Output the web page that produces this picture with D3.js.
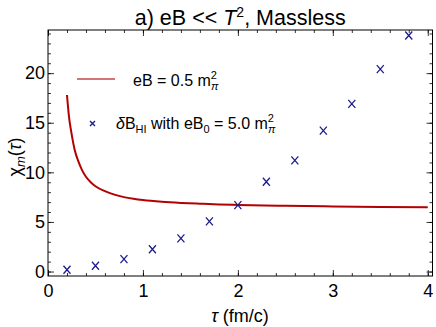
<!DOCTYPE html>
<html>
<head>
<meta charset="utf-8">
<script src="https://cdn.jsdelivr.net/npm/d3@7"></script>
<style>
  body { margin: 0; background: #fff; }
  svg { font-family: "Liberation Sans", Arial, sans-serif; }
</style>
</head>
<body>
<svg class="chart"></svg>
<script>
// crosses: delta B_HI with eB0 = 5.0 m_pi^2
const tauMarks = [0.2, 0.5, 0.8, 1.1, 1.4, 1.7, 2.0, 2.3, 2.6, 2.9, 3.2, 3.5, 3.8]
const chiMarks = [0.18, 0.58, 1.25, 2.25, 3.35, 5.05, 6.7, 9.05, 11.2, 14.2, 16.9, 20.4, 23.8]

// red curve: eB = 0.5 m_pi^2
const tauCurve = [0.2, 0.22, 0.25, 0.28, 0.32, 0.36, 0.4, 0.45, 0.5, 0.6, 0.7, 0.8, 0.9, 1.0, 1.2, 1.4, 1.6, 1.8, 2.0, 2.5, 3.0, 3.5, 4.0]
const chiCurve = [17.8, 15.7, 13.8, 12.3, 11.1, 10.2, 9.55, 9.0, 8.6, 8.1, 7.75, 7.5, 7.33, 7.2, 7.03, 6.92, 6.84, 6.77, 6.71, 6.62, 6.56, 6.51, 6.47]

const xTicks = [0, 1, 2, 3, 4]
const yTicks = [0, 5, 10, 15, 20]

const width = 436, height = 327
const padL = 48, padR = 432.5, padT = 30, padB = 276

const svg = d3.select('svg.chart')
    .attr('width', width)
    .attr('height', height)

const xScale = d3.scaleLinear().domain([0, 4.05]).range([padL, padR])
const yScale = d3.scaleLinear().domain([-0.45, 24.35]).range([padB, padT])

const curve = tauCurve.map((t, i) => ({ t: t, v: chiCurve[i] }))
const marks = tauMarks.map((t, i) => ({ t: t, v: chiMarks[i] }))

// ticks on all four sides, pointing inward
function tickAxis(axis, scale, values, size, labels) {
    return axis(scale).tickValues(values).tickSizeInner(size).tickSizeOuter(0)
        .tickFormat(labels ? d3.format('d') : '')
}

const minorX = d3.range(0, 4.01, 0.2)
const minorY = d3.range(0, 24.5, 1)

const axes = [
    ['translate(0,' + padB + ')', d3.axisBottom, xScale, 1],
    ['translate(0,' + padT + ')', d3.axisTop, xScale, 0],
    ['translate(' + padL + ',0)', d3.axisLeft, yScale, 1],
    ['translate(' + padR + ',0)', d3.axisRight, yScale, 0]
]
axes.forEach(([tr, ax, sc, lab]) => {
    const isX = sc === xScale
    svg.append('g').attr('transform', tr)
        .call(tickAxis(ax, sc, isX ? minorX : minorY, -3, false))
        .call(g => g.select('.domain').remove())
    const g = svg.append('g').attr('transform', tr)
        .call(tickAxis(ax, sc, isX ? xTicks : yTicks, -6, lab).tickPadding(isX ? 8 : 3))
        .call(g => g.select('.domain').remove())
    g.selectAll('text').style('font-size', '18px').attr('fill', '#000')
})
svg.selectAll('.tick line').attr('stroke', '#000').attr('stroke-width', 0.8)

svg.append('rect')
    .attr('x', padL).attr('y', padT)
    .attr('width', padR - padL).attr('height', padB - padT)
    .attr('fill', 'none').attr('stroke', '#000').attr('stroke-width', 1)

const plot = svg.append('g')

const line = d3.line()
    .x(d => xScale(d.t))
    .y(d => yScale(d.v))
    .curve(d3.curveMonotoneX)

plot.append('path')
    .datum(curve)
    .attr('d', line)
    .attr('fill', 'none')
    .attr('stroke', '#b30000')
    .attr('stroke-width', 2)

plot.selectAll('.mark')
    .data(marks)
    .enter()
    .append('path')
    .attr('class', 'mark')
    .attr('transform', d => 'translate(' + xScale(d.t) + ',' + yScale(d.v) + ')')
    .attr('d', 'M-3.5,-4L3.5,4M-3.5,4L3.5,-4')
    .attr('stroke', '#1c1c8c')
    .attr('stroke-width', 1.3)

// title
const title = svg.append('text')
    .attr('x', (padL + padR) / 2).attr('y', 25)
    .attr('text-anchor', 'middle')
    .style('font-size', '21.5px')
title.append('tspan').text('a) eB << ')
title.append('tspan').style('font-style', 'italic').text('T')
title.append('tspan').attr('dy', -8).style('font-size', '14px').text('2')
title.append('tspan').attr('dy', 8).text(', Massless')

// axis labels
svg.append('text')
    .attr('x', 240).attr('y', 322)
    .attr('text-anchor', 'middle')
    .style('font-size', '18px')
    .call(t => {
        t.append('tspan').style('font-style', 'italic').text('τ')
        t.append('tspan').text(' (fm/c)')
    })

svg.append('text')
    .attr('transform', 'translate(21,157)rotate(-90)')
    .attr('text-anchor', 'middle')
    .style('font-size', '18px')
    .call(t => {
        t.append('tspan').text('χ')
        t.append('tspan').attr('dy', 4).style('font-size', '13px').style('font-style', 'italic').text('m')
        t.append('tspan').attr('dy', -4).text('(')
        t.append('tspan').style('font-style', 'italic').text('τ')
        t.append('tspan').text(')')
    })

// legend
function mPi(t) {
    t.append('tspan').text('m')
    t.append('tspan').attr('dy', -7).style('font-size', '11px').text('2')
    t.append('tspan').attr('dx', -6).attr('dy', 11).style('font-size', '11px').style('font-style', 'italic').text('π')
}

svg.append('line')
    .attr('x1', 77).attr('x2', 115).attr('y1', 79).attr('y2', 79)
    .attr('stroke', '#c84646').attr('stroke-width', 1.5)

svg.append('text')
    .attr('x', 133).attr('y', 86)
    .style('font-size', '16px')
    .call(t => {
        t.append('tspan').text('eB = 0.5 ')
        mPi(t)
    })

svg.append('path')
    .attr('transform', 'translate(92.5,123.5)')
    .attr('d', 'M-2.5,-2.5L2.5,2.5M-2.5,2.5L2.5,-2.5')
    .attr('stroke', '#1c1c8c').attr('stroke-width', 1.4)

svg.append('text')
    .attr('x', 116).attr('y', 129)
    .style('font-size', '16px')
    .call(t => {
        t.append('tspan').style('font-style', 'italic').text('δ')
        t.append('tspan').text('B')
        t.append('tspan').attr('dy', 4).style('font-size', '11px').text('HI')
        t.append('tspan').attr('dy', -4).text(' with eB')
        t.append('tspan').attr('dy', 4).style('font-size', '11px').text('0')
        t.append('tspan').attr('dy', -4).text(' = 5.0 ')
        mPi(t)
    })
</script>
</body>
</html>
